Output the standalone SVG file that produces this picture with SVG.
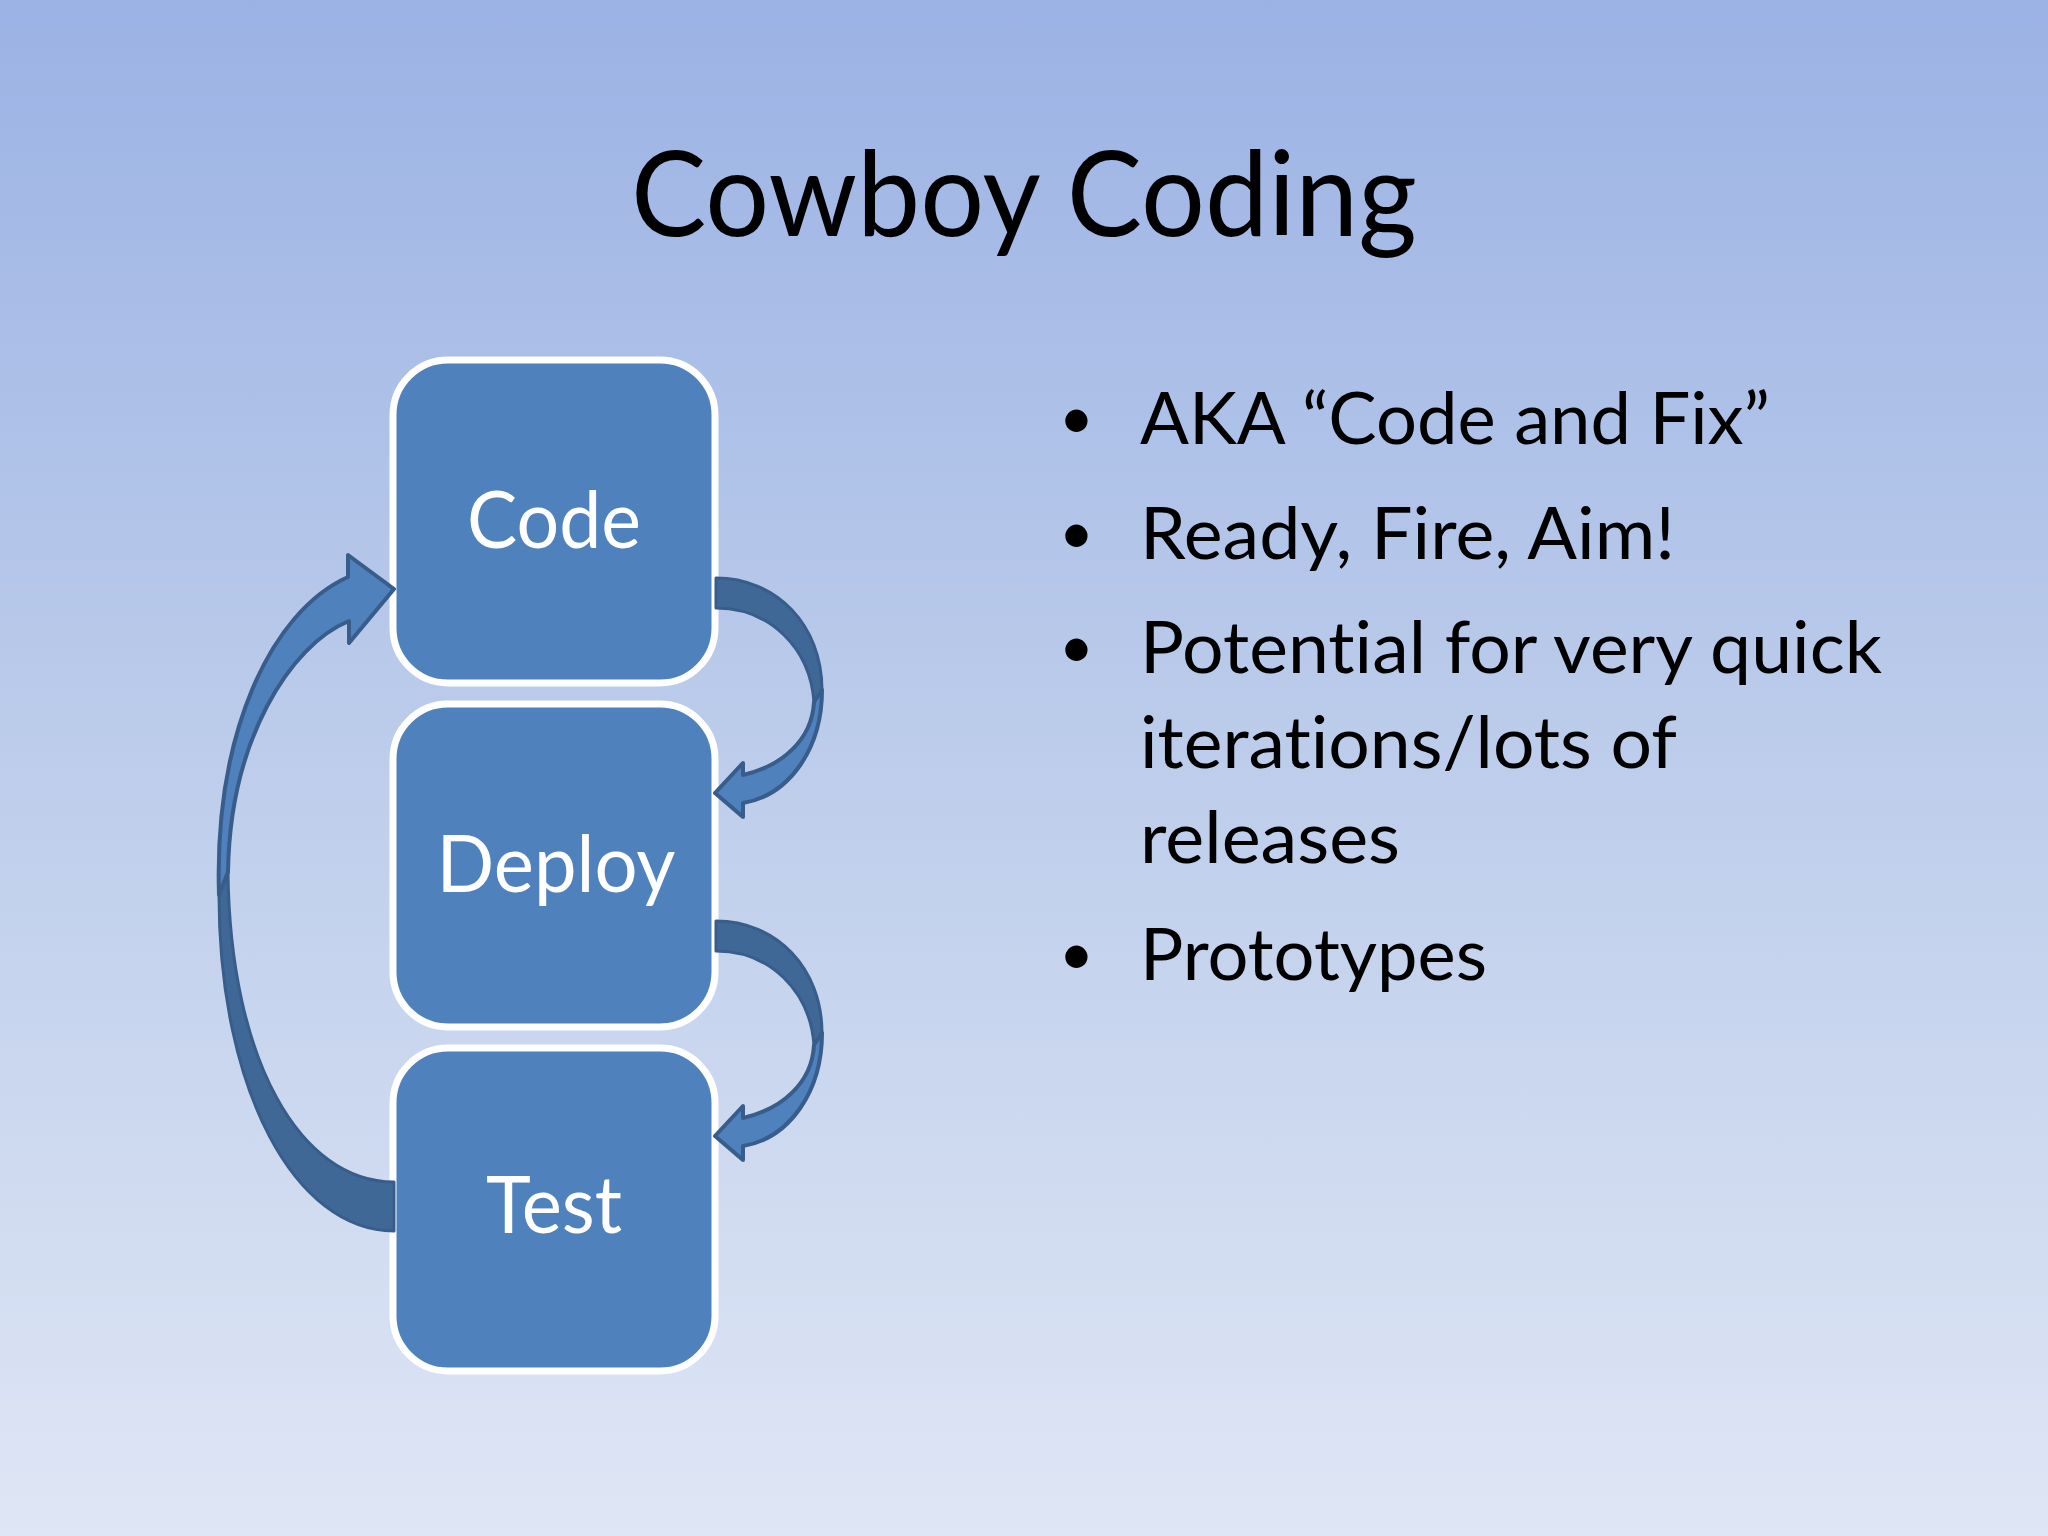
<svg xmlns="http://www.w3.org/2000/svg" width="2048" height="1536" viewBox="0 0 2048 1536">
<defs>
<linearGradient id="bg" x1="0" y1="0" x2="0" y2="1">
<stop offset="0" stop-color="#9BB2E4"/>
<stop offset="0.5" stop-color="#BDCDEB"/>
<stop offset="1" stop-color="#DFE6F5"/>
</linearGradient>
<style>
.box{fill:#4F81BD;stroke:#FFFFFF;stroke-width:7}
.lbl{font-family:Lato,"Open Sans",sans-serif;font-size:80px;fill:#FFFFFF;text-anchor:middle;font-variant-ligatures:none}
.txt{font-family:Lato,"Open Sans",sans-serif;font-size:72px;fill:#000000;font-variant-ligatures:none}
.bul{font-family:Lato,"Open Sans",sans-serif;font-size:60px;fill:#000000}
.title{font-family:Lato,"Open Sans",sans-serif;font-size:118px;fill:#000000;text-anchor:middle;font-variant-ligatures:none}
.back{fill:#3F6897;stroke:#385D8A;stroke-width:3;stroke-linejoin:round}
.front{fill:#4F81BD;stroke:#385D8A;stroke-width:4;stroke-linejoin:round}
</style>
</defs>
<rect x="0" y="0" width="2048" height="1536" fill="url(#bg)"/>
<text class="title" x="1024" y="236" textLength="786" lengthAdjust="spacingAndGlyphs">Cowboy Coding</text>

<g id="node-code">
<rect class="box" x="393" y="360" width="322" height="323" rx="55"/>
<text class="lbl" x="554" y="548" textLength="174" lengthAdjust="spacingAndGlyphs">Code</text>
</g>
<g id="node-deploy">
<rect class="box" x="393" y="704" width="322" height="323" rx="55"/>
<text class="lbl" x="556" y="892" textLength="239" lengthAdjust="spacingAndGlyphs">Deploy</text>
</g>
<g id="node-test">
<rect class="box" x="393" y="1048" width="322" height="323" rx="55"/>
<text class="lbl" x="554" y="1233" textLength="136" lengthAdjust="spacingAndGlyphs">Test</text>
</g>

<g id="connectors">
<g id="arrow-code-deploy">
<path class="back" d="M716,578 C776,578 822,625 822,690 L814,702 C810,648 770,608 716,608 Z"/>
<path class="front" d="M822,690 C822,748 790,795 743,803 L743,817 L715,793 L743,763 L743,775 C782,766 812,740 814,702 Z"/>
</g>
<g id="arrow-deploy-test" transform="translate(0,343)">
<path class="back" d="M716,578 C776,578 822,625 822,690 L814,702 C810,648 770,608 716,608 Z"/>
<path class="front" d="M822,690 C822,748 790,795 743,803 L743,817 L715,793 L743,763 L743,775 C782,766 812,740 814,702 Z"/>
</g>
<g id="arrow-test-code">
<path class="back" d="M394,1231 C295,1231 219,1090 219,895 L228,872 C230,1060 300,1182 394,1182 Z"/>
<path class="front" d="M219,895 C214,735 270,612 348,577 L348,555 L394,589 L349,643 L349,621 C290,645 230,740 228,872 Z"/>
</g>
</g>

<g id="bullets">
<text class="bul" x="1059" y="439">•</text>
<text class="txt" x="1140" y="444" textLength="630" lengthAdjust="spacingAndGlyphs">AKA “Code and Fix”</text>
<text class="bul" x="1059" y="554">•</text>
<text class="txt" x="1140" y="559" textLength="535" lengthAdjust="spacingAndGlyphs">Ready, Fire, Aim!</text>
<text class="bul" x="1059" y="668">•</text>
<text class="txt" x="1140" y="673" textLength="742" lengthAdjust="spacingAndGlyphs">Potential for very quick</text>
<text class="txt" x="1140" y="768" textLength="537" lengthAdjust="spacingAndGlyphs">iterations/lots of</text>
<text class="txt" x="1140" y="863" textLength="260" lengthAdjust="spacingAndGlyphs">releases</text>
<text class="bul" x="1059" y="975">•</text>
<text class="txt" x="1140" y="980" textLength="347" lengthAdjust="spacingAndGlyphs">Prototypes</text>
</g>
</svg>
